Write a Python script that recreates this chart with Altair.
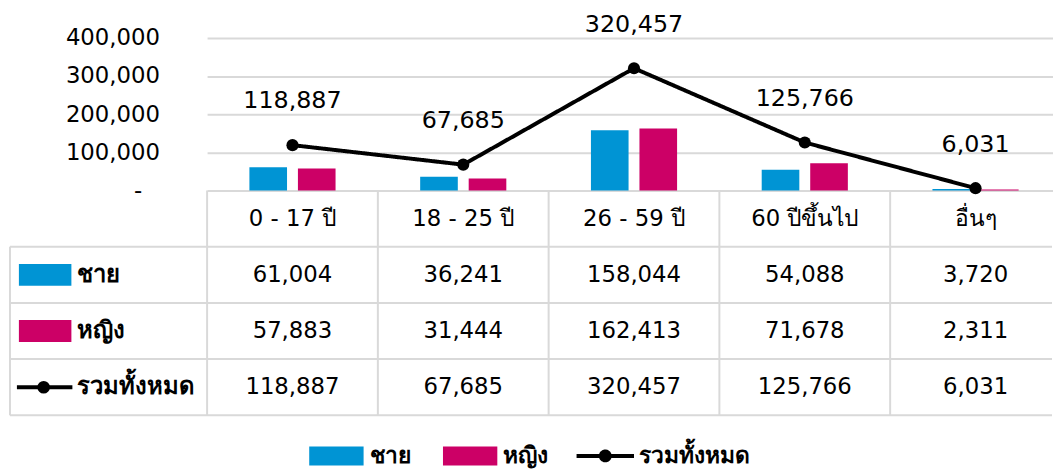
import altair as alt
import pandas as pd

# ---------------- data ----------------
categories = ["0 - 17 ปี", "18 - 25 ปี", "26 - 59 ปี", "60 ปีขึ้นไป", "อื่นๆ"]
male = [61004, 36241, 158044, 54088, 3720]
female = [57883, 31444, 162413, 71678, 2311]
total = [118887, 67685, 320457, 125766, 6031]
series_names = ["ชาย", "หญิง", "รวมทั้งหมด"]
series_colors = ["#0094D4", "#CC0066", "#000000"]
y_ticks = [0, 100000, 200000, 300000, 400000]
header_row = "หัวตาราง"

FONT = "DejaVu Sans"
GRID = "#D9D9D9"
W = 853
H_TOP = 154
H_TAB = 227

bars_df = pd.DataFrame({
    "cat": categories * 2,
    "series": [series_names[0]] * len(categories) + [series_names[1]] * len(categories),
    "value": male + female,
})
tot_df = pd.DataFrame({"cat": categories, "series": series_names[2], "value": total})
table_df = pd.DataFrame({
    "cat": categories * 3,
    "row": [s for s in series_names for _ in categories],
    "value": male + female + total,
})
hdr_df = pd.DataFrame({"cat": categories, "row": header_row})
rows_df = pd.DataFrame({"row": series_names, "series": series_names})

color_scale = alt.Scale(domain=series_names[:2], range=series_colors[:2])

RECT_PATH = "M-1,-0.35H1V0.35H-1Z"


def ring(r):
    return f"M{r},0A{r},{r},0,1,1,-{r},0A{r},{r},0,1,1,{r},0"


LINE_PATH = "M-1,0H1" + ring(0.155) + ring(0.09) + ring(0.03)

bar_legend = alt.Legend(
    title=None, orient="none", direction="horizontal", legendX=103, legendY=410,
    symbolType=RECT_PATH, symbolSize=3025, clipHeight=24, symbolStrokeWidth=0,
    labelFont=FONT, labelFontSize=23, labelFontWeight="bold", labelColor="#000",
    columnPadding=32, labelOffset=6, symbolOpacity=1,
)
line_legend = alt.Legend(
    title=None, orient="none", direction="horizontal", legendX=371, legendY=410,
    symbolType=LINE_PATH, symbolSize=3364, clipHeight=24, symbolStrokeWidth=4,
    symbolStrokeColor="#000", symbolFillColor="#000",
    labelFont=FONT, labelFontSize=23, labelFontWeight="bold", labelColor="#000",
    labelOffset=3, symbolOpacity=1,
)


def xenc(band_pos=None):
    kw = {}
    if band_pos is not None:
        kw["bandPosition"] = band_pos
    return alt.X("cat:N", sort=categories,
                 scale=alt.Scale(domain=categories, range=[0, 862], paddingInner=0, paddingOuter=0),
                 axis=None, **kw)


# ---------------- top chart ----------------
yA = alt.Y("value:Q",
           scale=alt.Scale(domain=[0, 400000], nice=False, zero=True),
           axis=alt.Axis(values=y_ticks, title=None, domain=False, ticks=False, tickSize=0,
                         labelPadding={"condition": {"test": "datum.value == 0", "value": 66}, "value": 48},
                         labelFont=FONT, labelFontSize=23, labelColor="#000",
                         gridColor=GRID, gridWidth=2,
                         labelExpr="datum.value == 0 ? '-' : format(datum.value, ',')"))

bars = alt.Chart(bars_df).mark_bar().encode(
    x=xenc(),
    xOffset=alt.XOffset("series:N", scale=alt.Scale(domain=series_names[:2], paddingInner=0.2245, paddingOuter=0.872)),
    y=yA,
    color=alt.Color("series:N", scale=color_scale, legend=bar_legend),
)
line = alt.Chart(tot_df).mark_line(strokeWidth=4, color="#000").encode(
    x=xenc(), y=yA,
    strokeDash=alt.StrokeDash("series:N", scale=alt.Scale(domain=series_names[2:], range=[[1, 0]]),
                              legend=line_legend))
points = alt.Chart(tot_df).mark_point(filled=True, size=150, opacity=1, color="#000").encode(
    x=xenc(), y=yA)
labels = alt.Chart(tot_df).mark_text(dy=-44, fontSize=24, font=FONT, color="#000").encode(
    x=xenc(), y=yA, text=alt.Text("value:Q", format=","))

top = alt.layer(bars, line, points, labels).properties(width=W, height=H_TOP)

# ---------------- table ----------------
row_scale = alt.Scale(domain=[header_row] + series_names, paddingInner=0, paddingOuter=0)
row_axis = alt.Axis(title=None, domain=False, ticks=False, tickSize=0, grid=False,
                    labelAlign="left", labelPadding=132, labelFont=FONT, labelFontSize=24,
                    labelFontWeight="bold", labelColor="#000",
                    labelExpr="datum.value == '" + header_row + "' ? '' : datum.value")


def yrow(band_pos=None):
    kw = {}
    if band_pos is not None:
        kw["bandPosition"] = band_pos
    return alt.Y("row:N", sort=[header_row] + series_names, scale=row_scale, axis=row_axis, **kw)


cell_text = alt.Chart(table_df).mark_text(fontSize=23, font=FONT, color="#000").encode(
    x=xenc(), y=yrow(), text=alt.Text("value:Q", format=","))
hdr_text = alt.Chart(hdr_df).mark_text(fontSize=23, font=FONT, color="#000").encode(
    x=xenc(), y=yrow(), text="cat:N")

hlines = alt.Chart(rows_df).mark_rule(color=GRID, strokeWidth=2).encode(
    y=yrow(0), x=alt.value(-199), x2=alt.value("width"))
bottom_line = alt.Chart(rows_df.tail(1)).mark_rule(color=GRID, strokeWidth=2).encode(
    y=yrow(1), x=alt.value(-199), x2=alt.value("width"))
vlines = alt.Chart(hdr_df).mark_rule(color=GRID, strokeWidth=2).encode(
    x=xenc(0), y=alt.value(0), y2=alt.value("height"))
left_line = alt.Chart(rows_df.head(1)).mark_rule(color=GRID, strokeWidth=2).encode(
    x=alt.value(-199), y=yrow(0), y2=alt.value("height"))

sym_rect = alt.Chart(rows_df.head(2)).mark_rule(strokeWidth=22, strokeCap="butt").encode(
    y=yrow(), x=alt.value(-190), x2=alt.value(-137),
    color=alt.Color("series:N", scale=color_scale, legend=None))
sym_line = alt.Chart(rows_df.tail(1)).mark_rule(strokeWidth=4, color="#000").encode(
    y=yrow(), x=alt.value(-192), x2=alt.value(-136))
sym_dot = alt.Chart(rows_df.tail(1)).mark_point(filled=True, size=160, opacity=1, color="#000").encode(
    y=yrow(), x=alt.value(-165))

table = alt.layer(cell_text, hdr_text, hlines, bottom_line, vlines, left_line,
                  sym_rect, sym_line, sym_dot).properties(width=W, height=H_TAB)

chart = alt.vconcat(top, table, spacing=0, bounds="flush").properties(
    padding={"left": 0, "top": 2, "right": 0, "bottom": 0}
).configure(font=FONT).configure_view(strokeWidth=0, stroke="transparent")

chart.save("out.html", embed_options={"renderer": "svg", "actions": False})
